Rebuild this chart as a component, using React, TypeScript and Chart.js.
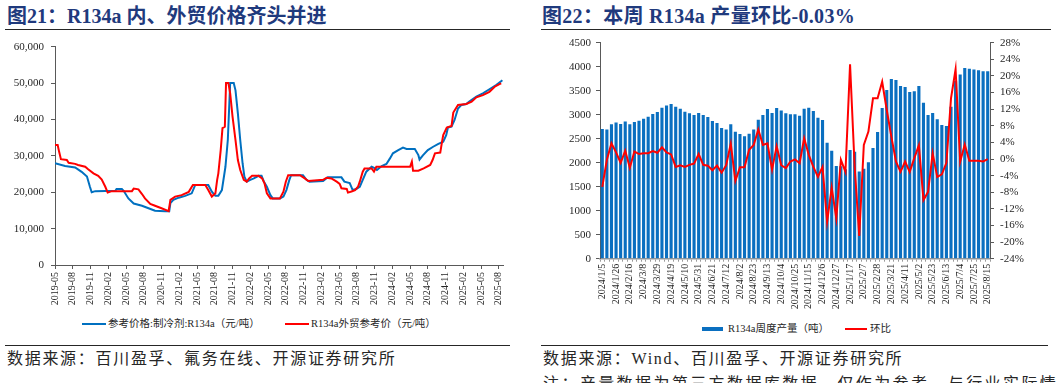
import React, { useEffect, useRef } from 'react';
import { Chart, registerables } from 'chart.js';

Chart.register(...registerables);

const SERIF = "'Liberation Serif','Times New Roman','Noto Sans CJK SC',serif";
const CJK = "'Liberation Serif','Noto Sans CJK SC',serif";

// ---------- Left chart: prices (x = months since 2019-05) ----------
const priceTickMonths = [0, 3, 6, 9, 12, 15, 18, 21, 24, 27, 30, 33, 36, 39, 42, 45, 48, 51, 54, 57, 60, 63, 66, 69, 72, 75];

const domesticMonths = [0, 1.7, 3.4, 4.5, 5.4, 5.9, 6.2, 6.8, 10.2, 10.4, 11.3, 11.6, 12.4, 13.3, 14.7, 15.8, 16.9, 18.6, 19.3, 19.5, 20.0, 20.9, 22.0, 23.1, 23.7, 25.9, 26.5, 27.1, 27.6, 28.2, 28.8, 29.2, 29.6, 30.2, 30.5, 30.9, 31.3, 31.7, 32.0, 32.4, 33.0, 33.6, 34.4, 34.9, 35.3, 35.8, 36.4, 36.8, 38.0, 38.6, 39.1, 39.6, 39.9, 41.9, 42.5, 43.0, 45.3, 46.1, 48.4, 48.9, 49.8, 50.3, 50.9, 51.5, 52.0, 52.6, 53.5, 54.0, 54.4, 55.2, 56.0, 56.6, 57.1, 58.0, 58.8, 59.4, 60.8, 61.4, 61.6, 62.2, 63.0, 63.9, 64.7, 65.6, 66.1, 66.4, 67.0, 67.5, 68.1, 68.7, 69.5, 70.0, 71.2, 72.3, 73.4, 74.6, 75.6];
const domesticPrices = [28000, 27200, 26800, 25600, 24300, 21500, 20000, 20300, 20400, 20900, 20900, 20400, 18300, 16900, 16300, 15600, 14900, 14750, 14750, 17000, 17900, 18500, 19000, 19700, 22000, 22000, 20150, 19000, 19000, 20600, 27000, 34350, 50000, 50000, 48000, 41700, 34350, 27900, 24300, 22900, 23400, 23800, 24500, 24500, 22900, 21500, 19200, 18300, 18300, 18800, 20600, 23400, 24700, 24700, 23400, 22900, 23100, 24100, 24100, 22900, 22500, 20600, 20900, 21500, 23400, 25650, 27000, 26600, 26100, 27200, 27750, 29300, 30700, 31600, 32250, 31900, 31900, 30200, 29000, 30200, 31600, 32500, 33250, 33900, 35700, 37800, 38000, 39800, 43000, 44000, 44250, 44900, 46250, 47200, 48300, 49500, 50800];

const exportMonths = [0, 0.45, 0.7, 1.0, 2.0, 2.3, 3.4, 3.9, 5.1, 5.6, 6.5, 7.3, 7.9, 8.5, 8.9, 9.6, 13.0, 13.3, 14.1, 14.7, 15.2, 16.1, 16.9, 18.0, 19.2, 19.5, 20.3, 21.4, 22.6, 23.3, 25.4, 25.9, 26.5, 27.1, 27.4, 27.6, 28.0, 28.3, 28.7, 28.9, 29.3, 29.6, 30.0, 30.5, 30.9, 31.3, 31.9, 32.4, 32.8, 33.3, 34.4, 35.0, 35.4, 35.8, 36.4, 38.0, 38.6, 39.0, 39.4, 41.4, 42.2, 42.8, 45.3, 45.9, 46.7, 47.6, 48.1, 48.4, 49.3, 49.5, 50.1, 50.7, 51.2, 51.5, 52.0, 52.3, 53.5, 53.9, 54.3, 60.0, 60.3, 60.5, 61.4, 62.3, 63.4, 63.8, 64.2, 65.1, 65.4, 65.6, 66.2, 67.0, 67.3, 68.1, 69.5, 70.4, 71.2, 72.3, 73.4, 74.3, 75.1, 75.4];
const exportPrices = [33000, 33000, 31100, 29100, 28850, 28100, 27800, 27500, 27000, 26300, 25200, 24500, 23500, 21500, 19900, 20300, 20300, 21000, 20800, 19500, 18300, 16800, 16300, 15600, 14800, 17900, 18800, 19200, 20100, 22000, 22000, 20600, 18800, 19700, 23400, 25200, 31600, 37600, 38000, 50000, 50000, 47200, 40800, 34350, 28850, 26100, 23400, 22900, 23800, 24500, 24500, 23800, 22450, 19700, 18300, 18300, 20150, 22900, 24700, 24700, 23800, 23100, 23400, 24000, 23800, 22900, 22300, 21100, 20900, 19900, 20200, 20600, 21500, 22900, 25650, 26550, 26550, 25650, 27000, 27000, 28400, 25900, 25900, 26550, 27500, 28850, 30700, 30900, 33900, 35700, 37800, 38200, 41900, 44000, 44250, 44900, 46100, 46700, 47600, 49000, 49700, 49900];

// ---------- Right chart: weekly output ----------
const weekLabels = [
  '2024/1/5', '2024/1/12', '2024/1/19', '2024/1/26', '2024/2/2', '2024/2/9', '2024/2/16', '2024/2/23', '2024/3/1', '2024/3/8',
  '2024/3/15', '2024/3/22', '2024/3/29', '2024/4/5', '2024/4/12', '2024/4/19', '2024/4/26', '2024/5/3', '2024/5/10', '2024/5/17',
  '2024/5/24', '2024/5/31', '2024/6/7', '2024/6/14', '2024/6/21', '2024/6/28', '2024/7/5', '2024/7/12', '2024/7/19', '2024/7/26',
  '2024/8/2', '2024/8/9', '2024/8/16', '2024/8/23', '2024/8/30', '2024/9/6', '2024/9/13', '2024/9/20', '2024/9/27', '2024/10/4',
  '2024/10/11', '2024/10/18', '2024/10/25', '2024/11/1', '2024/11/8', '2024/11/15', '2024/11/22', '2024/11/29', '2024/12/6', '2024/12/13',
  '2024/12/20', '2024/12/27', '2025/1/3', '2025/1/10', '2025/1/17', '2025/1/24', '2025/1/31', '2025/2/7', '2025/2/14', '2025/2/21',
  '2025/2/28', '2025/3/7', '2025/3/14', '2025/3/21', '2025/3/28', '2025/4/4', '2025/4/11', '2025/4/18', '2025/4/25', '2025/5/2',
  '2025/5/9', '2025/5/16', '2025/5/23', '2025/5/30', '2025/6/6', '2025/6/13', '2025/6/20', '2025/6/27', '2025/7/4', '2025/7/11',
  '2025/7/18', '2025/7/25', '2025/8/1', '2025/8/8', '2025/8/15'
];
const weeklyOutput = [
  2700, 2690, 2800, 2840, 2805, 2860, 2800, 2850, 2875, 2917,
  2958, 3014, 3055, 3146, 3194, 3222, 3167, 3125, 3062, 3028,
  2993, 3035, 2993, 2951, 2868, 2826, 2722, 2694, 2800, 2646,
  2597, 2549, 2604, 2694, 2896, 2993, 3118, 3035, 3139, 3090,
  3028, 3007, 3007, 2979, 3125, 3146, 3076, 2937, 2889, 2417,
  2250, 1930, 1925, 1865, 2264, 2229, 1819, 1875, 2007, 2305,
  2639, 3139, 3514, 3743, 3722, 3597, 3576, 3472, 3486, 3597,
  3250, 2993, 3035, 2903, 2785, 2764, 3167, 3708, 3840, 3972,
  3958, 3944, 3924, 3903, 3903
];
const weeklyChange = [
  -6.7, -0.2, 3.8, 1.6, -0.9, 2.0, -2.1, 1.8, 1.2, 1.4,
  1.4, 1.9, 1.5, 2.8, 1.6, 1.1, -1.9, -1.5, -1.9, -1.4,
  -1.1, 1.2, -1.4, -1.6, -2.7, -1.6, -3.3, -1.5, 3.7, -5.3,
  -2.0, -2.0, 2.2, 3.4, 7.1, 3.4, 3.8, -2.6, 3.1, -1.5,
  -2.2, -0.6, -0.1, -1.0, 5.0, 1.0, -1.9, -4.3, -1.9, -15.1,
  -6.9, -14.3, -0.2, -3.1, 22.8, -1.8, -18.5, 3.4, 6.6, 14.6,
  14.6, 18.6, 11.8, 5.4, -0.6, -3.1, -0.6, -3.1, 0.2, 3.3,
  -9.9, -7.9, 1.4, -4.3, -3.7, -0.9, 14.6, 21.6, -0.6, 3.5,
  -0.4, -0.4, -0.4, -0.6, -0.03
];

function monthLabel(m: number): string {
  const total = 4 + Math.round(m);
  const y = 2019 + Math.floor(total / 12);
  const mo = (total % 12) + 1;
  return `${y}-${mo < 10 ? '0' + mo : mo}`;
}

const AXIS = '#595959';
const TICK_COLOR = '#262626';

export default function App() {
  const leftRef = useRef<HTMLCanvasElement>(null);
  const rightRef = useRef<HTMLCanvasElement>(null);

  useEffect(() => {
    document.body.style.margin = '0';
    const leftChart = new Chart(leftRef.current as HTMLCanvasElement, {
      type: 'line',
      data: {
        datasets: [
          {
            label: '参考价格:制冷剂:R134a（元/吨）',
            data: domesticMonths.map((m, i) => ({ x: m, y: domesticPrices[i] })),
            borderColor: '#0070C0',
            borderWidth: 2,
            pointRadius: 0,
            tension: 0,
            order: 1,
          },
          {
            label: 'R134a外贸参考价（元/吨）',
            data: exportMonths.map((m, i) => ({ x: m, y: exportPrices[i] })),
            borderColor: '#FF0000',
            borderWidth: 2,
            pointRadius: 0,
            tension: 0,
            order: 0,
          },
        ],
      },
      options: {
        animation: false,
        responsive: false,
        maintainAspectRatio: false,
        layout: { padding: { top: 16.7, right: 12, left: 0, bottom: 0 } },
        plugins: { legend: { display: false }, tooltip: { enabled: false } },
        scales: {
          x: {
            type: 'linear',
            min: 0,
            max: 75.7,
            afterBuildTicks: (s: any) => {
              s.ticks = priceTickMonths.map((v) => ({ value: v }));
            },
            afterFit: (s: any) => {
              s.height = 50;
            },
            grid: { drawOnChartArea: false, drawTicks: true, tickLength: 4, color: AXIS },
            border: { color: AXIS, width: 1 },
            ticks: {
              autoSkip: false,
              minRotation: 90,
              maxRotation: 90,
              padding: 3,
              color: TICK_COLOR,
              font: { family: SERIF, size: 10 },
              callback: (v: any) => monthLabel(Number(v)),
            },
          },
          y: {
            min: 0,
            max: 60000,
            afterFit: (s: any) => {
              s.width = 55;
            },
            grid: { drawOnChartArea: false, drawTicks: true, tickLength: 4, color: AXIS },
            border: { color: AXIS, width: 1 },
            ticks: {
              stepSize: 10000,
              padding: 7,
              color: TICK_COLOR,
              font: { family: SERIF, size: 11 },
              callback: (v: any) => Number(v).toLocaleString('en-US'),
            },
          },
        },
      },
    } as any);

    const rightChart = new Chart(rightRef.current as HTMLCanvasElement, {
      type: 'bar',
      data: {
        labels: weekLabels,
        datasets: [
          {
            type: 'line',
            label: '环比',
            data: weeklyChange,
            yAxisID: 'y1',
            borderColor: '#FF0000',
            borderWidth: 2,
            pointRadius: 0,
            tension: 0,
            order: 0,
          },
          {
            type: 'bar',
            label: 'R134a周度产量（吨）',
            data: weeklyOutput,
            yAxisID: 'y',
            backgroundColor: '#0A6FC0',
            barPercentage: 0.68,
            categoryPercentage: 1,
            order: 1,
          },
        ],
      },
      options: {
        animation: false,
        responsive: false,
        maintainAspectRatio: false,
        layout: { padding: { top: 12.7, right: 0, left: 0, bottom: 0 } },
        plugins: { legend: { display: false }, tooltip: { enabled: false } },
        scales: {
          x: {
            afterFit: (s: any) => {
              s.height = 56.3;
            },
            grid: { drawOnChartArea: false, drawTicks: true, tickLength: 3, color: '#9a9a9a' },
            border: { color: '#9a9a9a', width: 1.5 },
            ticks: {
              autoSkip: false,
              minRotation: 90,
              maxRotation: 90,
              padding: 2,
              color: TICK_COLOR,
              font: { family: SERIF, size: 10 },
              callback: (_v: any, i: number) => (i % 3 === 0 ? weekLabels[i] : ''),
            },
          },
          y: {
            position: 'left',
            min: 0,
            max: 4500,
            afterFit: (s: any) => {
              s.width = 70;
            },
            grid: { drawOnChartArea: false, drawTicks: true, tickLength: 4, color: AXIS },
            border: { color: AXIS, width: 1 },
            ticks: {
              stepSize: 500,
              padding: 5,
              color: TICK_COLOR,
              font: { family: SERIF, size: 11 },
              callback: (v: any) => String(v),
            },
          },
          y1: {
            position: 'right',
            min: -24,
            max: 28,
            afterFit: (s: any) => {
              s.width = 67;
            },
            grid: { drawOnChartArea: false, drawTicks: true, tickLength: 4, color: AXIS },
            border: { color: AXIS, width: 1 },
            ticks: {
              stepSize: 4,
              padding: 6,
              color: TICK_COLOR,
              font: { family: SERIF, size: 11 },
              callback: (v: any) => `${v}%`,
            },
          },
        },
      },
    } as any);

    return () => {
      leftChart.destroy();
      rightChart.destroy();
    };
  }, []);

  const title: React.CSSProperties = {
    position: 'absolute',
    top: 4,
    fontSize: 20,
    lineHeight: '24px',
    fontWeight: 'bold',
    color: '#1F3A7D',
    fontFamily: CJK,
    whiteSpace: 'nowrap',
  };
  const rule = (left: number, top: number, width: number): React.CSSProperties => ({
    position: 'absolute',
    left,
    top,
    width,
    height: 1,
    background: '#262626',
  });
  const footer: React.CSSProperties = {
    position: 'absolute',
    top: 349,
    fontSize: 16,
    lineHeight: '20px',
    letterSpacing: 1.7,
    color: '#262626',
    fontFamily: CJK,
    whiteSpace: 'nowrap',
  };
  const legendText: React.CSSProperties = {
    position: 'absolute',
    fontSize: 10.5,
    lineHeight: '14px',
    color: '#262626',
    fontFamily: CJK,
    whiteSpace: 'nowrap',
  };

  return (
    <div style={{ position: 'relative', width: 1057, height: 383, overflow: 'hidden', background: '#fff' }}>
      <div style={{ ...title, left: 7 }}>图21：R134a 内、外贸价格齐头并进</div>
      <div style={rule(5, 29, 505)} />
      <canvas ref={leftRef} width={515} height={285} style={{ position: 'absolute', left: 0, top: 30, width: 515, height: 285 }} />
      <div style={{ position: 'absolute', left: 82, top: 323, width: 24, height: 2, background: '#0070C0' }} />
      <div style={{ ...legendText, left: 108, top: 317 }}>参考价格:制冷剂:R134a（元/吨）</div>
      <div style={{ position: 'absolute', left: 285, top: 323, width: 24, height: 2, background: '#FF0000' }} />
      <div style={{ ...legendText, left: 311, top: 317 }}>R134a外贸参考价（元/吨）</div>
      <div style={rule(5, 345, 505)} />
      <div style={{ ...footer, left: 7 }}>数据来源：百川盈孚、氟务在线、开源证券研究所</div>

      <div style={{ ...title, left: 542, letterSpacing: 0.3 }}>图22：本周 R134a 产量环比-0.03%</div>
      <div style={rule(541, 29, 510)} />
      <canvas ref={rightRef} width={527} height={285} style={{ position: 'absolute', left: 530, top: 30, width: 527, height: 285 }} />
      <div style={{ position: 'absolute', left: 702, top: 327, width: 21, height: 4, background: '#0A6FC0' }} />
      <div style={{ ...legendText, left: 728, top: 322 }}>R134a周度产量（吨）</div>
      <div style={{ position: 'absolute', left: 845, top: 328, width: 22, height: 2, background: '#FF0000' }} />
      <div style={{ ...legendText, left: 870, top: 322 }}>环比</div>
      <div style={rule(541, 345, 507)} />
      <div style={{ ...footer, left: 543 }}>数据来源：Wind、百川盈孚、开源证券研究所</div>
      <div style={{ ...footer, left: 543, top: 374, letterSpacing: 2.4 }}>注：产量数据为第三方数据库数据，仅作为参考，与行业实际情况或有出入</div>
    </div>
  );
}
